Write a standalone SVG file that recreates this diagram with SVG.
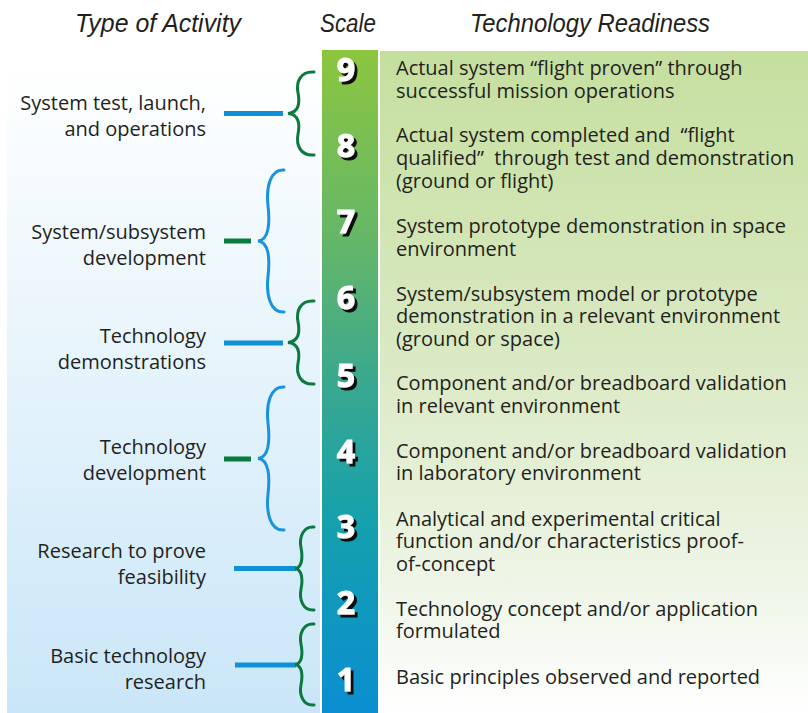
<svg xmlns="http://www.w3.org/2000/svg" width="808" height="713" viewBox="0 0 808 713">
  <defs>
    <linearGradient id="gLeft" x1="0" y1="0" x2="0" y2="1">
      <stop offset="0" stop-color="#ffffff"/>
      <stop offset="0.5" stop-color="#e4f3fb"/>
      <stop offset="1" stop-color="#c9e6f8"/>
    </linearGradient>
    <linearGradient id="gBar" x1="0" y1="0" x2="0" y2="1">
      <stop offset="0" stop-color="#8cc63f"/>
      <stop offset="0.3" stop-color="#62b66a"/>
      <stop offset="0.5" stop-color="#3aa88f"/>
      <stop offset="0.72" stop-color="#14a0ae"/>
      <stop offset="1" stop-color="#0a8ed1"/>
    </linearGradient>
    <linearGradient id="gRight" x1="0" y1="0" x2="0" y2="1">
      <stop offset="0" stop-color="#c5df9f"/>
      <stop offset="0.45" stop-color="#d9e9c2"/>
      <stop offset="0.8" stop-color="#eef5e6"/>
      <stop offset="1" stop-color="#ffffff"/>
    </linearGradient>
    <filter id="shadow" x="-30%" y="-30%" width="160%" height="160%">
      <feOffset in="SourceAlpha" dx="3" dy="3" result="off"/>
      <feFlood flood-color="#111111" result="col"/>
      <feComposite in="col" in2="off" operator="in" result="sh"/>
      <feMerge>
        <feMergeNode in="sh"/>
        <feMergeNode in="SourceGraphic"/>
      </feMerge>
    </filter>
  </defs>
  <style>
    .hdr { font-family: "Liberation Sans", Arial, sans-serif; font-style: italic; font-size: 25px; fill: #231f20; }
    .lbl { font-family: "Open Sans", "Liberation Sans", sans-serif; font-size: 20px; fill: #231f20; text-anchor: end; }
    .rd { font-family: "Open Sans", "Liberation Sans", sans-serif; font-size: 20px; fill: #231f20; }
    .num { font-family: "Open Sans", "Liberation Sans", sans-serif; font-weight: bold; font-size: 32px; text-anchor: middle; fill: #ffffff; stroke: #ffffff; stroke-width: 1; filter: url(#shadow); }
    .bb { stroke: #0f8fd6; stroke-width: 5; fill: none; }
    .bg { stroke: #0b7a3e; stroke-width: 5; fill: none; }
    .cb { stroke: #1893dc; stroke-width: 3; fill: none; stroke-linecap: round; }
    .cg { stroke: #0b7a3e; stroke-width: 3; fill: none; stroke-linecap: round; }
  </style>

  <!-- backgrounds -->
  <rect x="7" y="63" width="313" height="650" fill="url(#gLeft)"/>
  <rect x="322" y="50" width="56" height="663" fill="url(#gBar)"/>
  <rect x="380" y="51" width="428" height="662" fill="url(#gRight)"/>

  <!-- headers -->
  <g id="headers">
    <text class="hdr" x="75" y="32" textLength="166" lengthAdjust="spacingAndGlyphs">Type of Activity</text>
    <text class="hdr" x="320" y="32" textLength="56" lengthAdjust="spacingAndGlyphs">Scale</text>
    <text class="hdr" x="470" y="32" textLength="240" lengthAdjust="spacingAndGlyphs">Technology Readiness</text>
  </g>

  <!-- activity nodes -->
  <g id="act-system-test"><text class="lbl" x="206" y="110">System test, launch,</text><text class="lbl" x="206" y="136">and operations</text></g>
  <g id="act-system-dev"><text class="lbl" x="206" y="239">System/subsystem</text><text class="lbl" x="206" y="265">development</text></g>
  <g id="act-tech-demo"><text class="lbl" x="206" y="343">Technology</text><text class="lbl" x="206" y="369">demonstrations</text></g>
  <g id="act-tech-dev"><text class="lbl" x="206" y="454">Technology</text><text class="lbl" x="206" y="480">development</text></g>
  <g id="act-research"><text class="lbl" x="206" y="558">Research to prove</text><text class="lbl" x="206" y="584">feasibility</text></g>
  <g id="act-basic"><text class="lbl" x="206" y="663">Basic technology</text><text class="lbl" x="206" y="689">research</text></g>

  <!-- connectors -->
  <g id="connectors">
    <line class="bb" x1="224" y1="113.5" x2="283" y2="113.5"/>
    <path class="cg" d="M314,72 C300,71 296,82.4 298,92.8 C300,103.1 299,112.5 288,113.5 C299,114.5 300,123.9 298,134.3 C296,144.6 300,156 314,155"/>
    <line class="bg" x1="224" y1="241" x2="251" y2="241"/>
    <path class="cb" d="M284,170 C270,169 266,187.8 268,205.5 C270,223.3 269,240 258,241 C269,242 270,258.8 268,276.5 C266,294.3 270,313 284,312"/>
    <line class="bb" x1="224" y1="343" x2="283" y2="343"/>
    <path class="cg" d="M314,301 C300,300 296,311.4 298,321.8 C300,332.1 299,341.5 288,342.5 C299,343.5 300,352.9 298,363.3 C296,373.6 300,385 314,384"/>
    <line class="bg" x1="224" y1="459" x2="251" y2="459"/>
    <path class="cb" d="M284,387 C270,386 266,404.9 268,422.8 C270,440.6 269,457.5 258,458.5 C269,459.5 270,476.4 268,494.3 C266,512.1 270,531 284,530"/>
    <line class="bb" x1="234" y1="568.5" x2="296" y2="568.5"/>
    <path class="cg" d="M314,527 C303,526 299,537.4 301,547.8 C303,558.1 302,567.5 295,568.5 C302,569.5 303,578.9 301,589.3 C299,599.6 303,611 314,610"/>
    <line class="bb" x1="235" y1="665" x2="296" y2="665"/>
    <path class="cg" d="M314,624 C303,623 299,634.1 301,644.3 C303,654.4 302,663.5 295,664.5 C302,665.5 303,674.6 301,684.8 C299,694.9 303,706 314,705"/>
  </g>

  <!-- scale digits -->
  <g id="scale">
    <g id="trl9"><text class="num" x="346" y="81">9</text></g>
    <g id="trl8"><text class="num" x="346" y="157">8</text></g>
    <g id="trl7"><text class="num" x="346" y="233">7</text></g>
    <g id="trl6"><text class="num" x="346" y="309">6</text></g>
    <g id="trl5"><text class="num" x="346" y="387">5</text></g>
    <g id="trl4"><text class="num" x="346" y="463">4</text></g>
    <g id="trl3"><text class="num" x="346" y="538">3</text></g>
    <g id="trl2"><text class="num" x="346" y="614">2</text></g>
    <g id="trl1"><text class="num" x="346" y="691">1</text></g>
  </g>

  <!-- readiness descriptions -->
  <g id="rd9"><text class="rd" x="396" y="75">Actual system “flight proven” through</text><text class="rd" x="396" y="98">successful mission operations</text></g>
  <g id="rd8"><text class="rd" x="396" y="142" xml:space="preserve">Actual system completed and  “flight</text><text class="rd" x="396" y="165" xml:space="preserve">qualified”  through test and demonstration</text><text class="rd" x="396" y="188">(ground or flight)</text></g>
  <g id="rd7"><text class="rd" x="396" y="233">System prototype demonstration in space</text><text class="rd" x="396" y="256">environment</text></g>
  <g id="rd6"><text class="rd" x="396" y="301">System/subsystem model or prototype</text><text class="rd" x="396" y="323">demonstration in a relevant environment</text><text class="rd" x="396" y="346">(ground or space)</text></g>
  <g id="rd5"><text class="rd" x="396" y="390">Component and/or breadboard validation</text><text class="rd" x="396" y="413">in relevant environment</text></g>
  <g id="rd4"><text class="rd" x="396" y="458">Component and/or breadboard validation</text><text class="rd" x="396" y="480">in laboratory environment</text></g>
  <g id="rd3"><text class="rd" x="396" y="526">Analytical and experimental critical</text><text class="rd" x="396" y="548">function and/or characteristics proof-</text><text class="rd" x="396" y="571">of-concept</text></g>
  <g id="rd2"><text class="rd" x="396" y="616">Technology concept and/or application</text><text class="rd" x="396" y="638">formulated</text></g>
  <g id="rd1"><text class="rd" x="396" y="684">Basic principles observed and reported</text></g>
</svg>
